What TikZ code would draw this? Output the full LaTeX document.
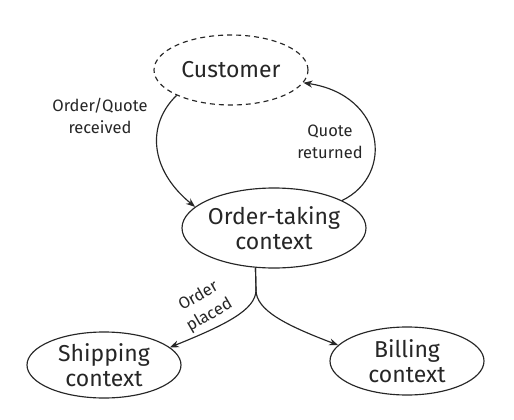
\documentclass[tikz,border=0pt]{standalone}
\usepackage{fontspec}
\setmainfont{Fira Sans}
\usetikzlibrary{shapes.geometric,arrows.meta}
\definecolor{ink}{HTML}{262626}
\tikzset{
  ctx/.style={ellipse, draw=ink, line width=1.15pt, inner sep=0pt},
  big/.style={font=\fontsize{23}{25}\selectfont, text=ink, align=center},
  small/.style={font=\fontsize{16.5}{22}\selectfont, text=ink, align=center},
  flow/.style={draw=ink, line width=1.15pt, -{Stealth[length=9pt,width=7pt]}},
}
\begin{document}
\begin{tikzpicture}[x=1pt,y=-1pt]
\useasboundingbox[fill=white] (0,0) rectangle (514,420);
\node[ctx, dash pattern=on 5pt off 4pt, minimum width=154pt, minimum height=70pt,
  label={[big]center:Customer}] (cust) at (231,70) {};
\node[ctx, minimum width=184pt, minimum height=80pt,
  label={[big]center:Order-taking\\context}] (ot) at (274,228) {};
\node[ctx, minimum width=154pt, minimum height=66pt,
  label={[big]center:Shipping\\context}] (ship) at (104,365) {};
\node[ctx, minimum width=154pt, minimum height=68pt,
  label={[big]center:Billing\\context}] (bill) at (407,361) {};
\coordinate (split) at (256,290);

\draw[flow] (cust.205) .. controls (146,125) and (150,170) .. (ot.165);
\draw[flow] (ot.22) .. controls (395,175) and (385,95) .. (cust.350);
\draw[flow] (ot.245) -- (split) .. controls (256,310) and (225,325) .. (ship.15);
\draw[flow] (ot.245) -- (split) .. controls (256,310) and (285,325) .. (bill.167);

\node[small] (lab1) at (100,116) {Order/Quote\\received};
\node[small] (lab2) at (330,142) {Quote\\returned};
\node[small, rotate=30] (lab3) at (204,306) {Order\\placed};
\end{tikzpicture}
\end{document}
